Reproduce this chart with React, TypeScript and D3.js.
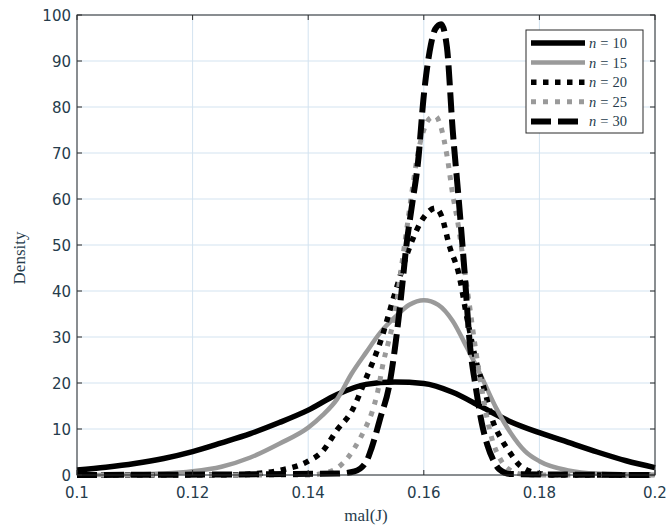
import React from "react";
import * as d3 from "d3";

// ---------- data ----------
const xTicks = [0.1, 0.12, 0.14, 0.16, 0.18, 0.2];
const xTickLabels = ["0.1", "0.12", "0.14", "0.16", "0.18", "0.2"];
const yTicks = [0, 10, 20, 30, 40, 50, 60, 70, 80, 90, 100];
const yTickLabels = ["0", "10", "20", "30", "40", "50", "60", "70", "80", "90", "100"];

const seriesNames = ["10", "15", "20", "25", "30"];

const n10X = [0.100, 0.105, 0.110, 0.115, 0.120, 0.125, 0.130, 0.135, 0.140, 0.145, 0.150, 0.155, 0.160, 0.165, 0.170, 0.175, 0.180, 0.185, 0.190, 0.195, 0.200];
const n10Y = [1.1, 1.7, 2.5, 3.6, 5.1, 7.0, 9.0, 11.4, 14.1, 17.5, 19.7, 20.2, 19.9, 18.0, 14.8, 11.6, 9.2, 7.1, 5.0, 3.1, 1.6];

const n15X = [0.100, 0.110, 0.115, 0.120, 0.125, 0.130, 0.135, 0.140, 0.1425, 0.145, 0.1475, 0.150, 0.1525, 0.155, 0.1575, 0.160, 0.1625, 0.165, 0.1675, 0.170, 0.1725, 0.175, 0.1775, 0.180, 0.185, 0.190, 0.200];
const n15Y = [0, 0.1, 0.3, 0.8, 1.8, 3.8, 6.8, 10.3, 13.0, 16.5, 22.0, 26.6, 31.0, 34.3, 37.0, 38.0, 37.0, 33.5, 27.6, 21.3, 14.6, 9.2, 5.2, 3.0, 1.0, 0.3, 0];

const n20X = [0.100, 0.125, 0.130, 0.135, 0.140, 0.1425, 0.145, 0.1475, 0.150, 0.1525, 0.155, 0.1575, 0.160, 0.162, 0.163, 0.1645, 0.166, 0.1675, 0.169, 0.1705, 0.172, 0.1735, 0.175, 0.1765, 0.178, 0.180, 0.183, 0.200];
const n20Y = [0, 0, 0.2, 1.0, 3.0, 5.2, 9.8, 13.8, 21.0, 29.0, 39.5, 49.4, 56.0, 58.0, 56.5, 49.5, 44.0, 34.0, 25.0, 18.5, 11.5, 7.6, 4.7, 2.2, 1.0, 0.3, 0, 0];

const n25X = [0.100, 0.140, 0.143, 0.145, 0.147, 0.149, 0.150, 0.151, 0.152, 0.153, 0.154, 0.155, 0.156, 0.157, 0.158, 0.159, 0.160, 0.161, 0.162, 0.163, 0.164, 0.165, 0.166, 0.167, 0.168, 0.169, 0.170, 0.171, 0.172, 0.173, 0.174, 0.175, 0.177, 0.180, 0.200];
const n25Y = [0, 0, 0.5, 1.5, 4.0, 8.0, 10.5, 13.5, 18.0, 24.5, 29.5, 35.0, 44.0, 53.0, 62.0, 70.0, 75.0, 77.5, 78.0, 75.5, 69.5, 61.0, 54.0, 45.0, 36.0, 27.0, 19.0, 12.0, 7.0, 4.0, 2.0, 1.0, 0.2, 0, 0];

const n30X = [0.100, 0.145, 0.148, 0.150, 0.151, 0.1525, 0.154, 0.155, 0.156, 0.157, 0.158, 0.159, 0.160, 0.161, 0.162, 0.163, 0.164, 0.165, 0.166, 0.167, 0.168, 0.169, 0.170, 0.171, 0.172, 0.173, 0.175, 0.200];
const n30Y = [0, 0.3, 0.8, 2.8, 6.0, 12.5, 19.3, 27.5, 38.0, 50.0, 59.0, 68.0, 82.5, 92.0, 97.0, 98.0, 93.0, 75.0, 60.5, 45.0, 28.0, 19.0, 11.5, 6.5, 3.3, 1.3, 0.2, 0];

const seriesX = [n10X, n15X, n20X, n25X, n30X];
const seriesY = [n10Y, n15Y, n20Y, n25Y, n30Y];

// ---------- styles ----------
const seriesStyle = [
  { color: "#000000", width: 5.5, dash: "none", cap: "butt" },
  { color: "#9a9a9a", width: 4.5, dash: "none", cap: "butt" },
  { color: "#000000", width: 5.5, dash: "5.5,6.5", cap: "butt" },
  { color: "#9a9a9a", width: 5, dash: "5,7", cap: "butt" },
  { color: "#000000", width: 6, dash: "20,7", cap: "butt" },
];

const W = 670;
const H = 527;
const L = 77, R = 655, T = 15, B = 475;
const textColor = "#263c4c";

export default function App() {
  const x = d3.scaleLinear().domain([0.1, 0.2]).range([L, R]);
  const y = d3.scaleLinear().domain([0, 100]).range([B, T]);
  const line = d3
    .line<[number, number]>()
    .x((d) => x(d[0]))
    .y((d) => y(d[1]))
    .curve(d3.curveMonotoneX);

  const legX0 = 526, legY0 = 30, legW = 117, legH = 103;
  const legRowY = (i: number) => legY0 + 13 + i * 19.6;

  return (
    <svg
      width={W}
      height={H}
      style={{ position: "absolute", left: 0, top: 0, background: "#fff" }}
    >
      {/* grid */}
      <g>
        {xTicks.map((t, i) => (
          <line key={"gx" + i} x1={x(t)} x2={x(t)} y1={T} y2={B} stroke="#d3e3f0" strokeWidth={1} />
        ))}
        {yTicks.map((t, i) => (
          <line key={"gy" + i} x1={L} x2={R} y1={y(t)} y2={y(t)} stroke="#d3e3f0" strokeWidth={1} />
        ))}
      </g>

      {/* series */}
      <g fill="none">
        {seriesX.map((xs, si) => {
          const pts = xs.map((v, j) => [v, seriesY[si][j]] as [number, number]);
          const st = seriesStyle[si];
          return (
            <path
              key={"s" + si}
              d={line(pts) || ""}
              stroke={st.color}
              strokeWidth={st.width}
              strokeDasharray={st.dash}
              strokeLinecap={st.cap as any}
              strokeLinejoin="round"
            />
          );
        })}
      </g>

      {/* axes box */}
      <rect x={L} y={T} width={R - L} height={B - T} fill="none" stroke="#2a2a2a" strokeWidth={1} />
      {xTicks.map((t, i) => (
        <g key={"xt" + i}>
          <line x1={x(t)} x2={x(t)} y1={B} y2={B - 5} stroke="#2a2a2a" />
          <line x1={x(t)} x2={x(t)} y1={T} y2={T + 5} stroke="#2a2a2a" />
          <text
            x={x(t)}
            y={B + 23}
            textAnchor="middle"
            fontFamily="DejaVu Sans, sans-serif"
            fontSize={15}
            fill={textColor}
          >
            {xTickLabels[i]}
          </text>
        </g>
      ))}
      {yTicks.map((t, i) => (
        <g key={"yt" + i}>
          <line x1={L} x2={L + 5} y1={y(t)} y2={y(t)} stroke="#2a2a2a" />
          <line x1={R} x2={R - 5} y1={y(t)} y2={y(t)} stroke="#2a2a2a" />
          <text
            x={L - 6}
            y={y(t) + 5.5}
            textAnchor="end"
            fontFamily="DejaVu Sans, sans-serif"
            fontSize={15}
            fill={textColor}
          >
            {yTickLabels[i]}
          </text>
        </g>
      ))}

      {/* axis labels */}
      <text
        x={(L + R) / 2}
        y={521}
        textAnchor="middle"
        fontFamily="Liberation Serif, DejaVu Serif, serif"
        fontSize={17}
        fill={textColor}
      >
        mal(J)
      </text>
      <text
        transform={`translate(25,258) rotate(-90)`}
        textAnchor="middle"
        fontFamily="Liberation Serif, DejaVu Serif, serif"
        fontSize={17}
        fill={textColor}
      >
        Density
      </text>

      {/* legend */}
      <g>
        <rect x={legX0} y={legY0} width={legW} height={legH} fill="#fff" stroke="#2a2a2a" strokeWidth={1} />
        {seriesNames.map((nm, i) => {
          const st = seriesStyle[i];
          const ly = legRowY(i);
          return (
            <g key={"lg" + i}>
              <line
                x1={legX0 + 5}
                x2={legX0 + 59}
                y1={ly}
                y2={ly}
                stroke={st.color}
                strokeWidth={st.width}
                strokeDasharray={st.dash}
              />
              <text
                x={legX0 + 63}
                y={ly + 5}
                fontFamily="Liberation Serif, DejaVu Serif, serif"
                fontSize={14.5}
                fill={textColor}
              >
                <tspan fontStyle="italic">n</tspan>
                <tspan dx={4}>=</tspan>
                <tspan dx={4}>{nm}</tspan>
              </text>
            </g>
          );
        })}
      </g>
    </svg>
  );
}
